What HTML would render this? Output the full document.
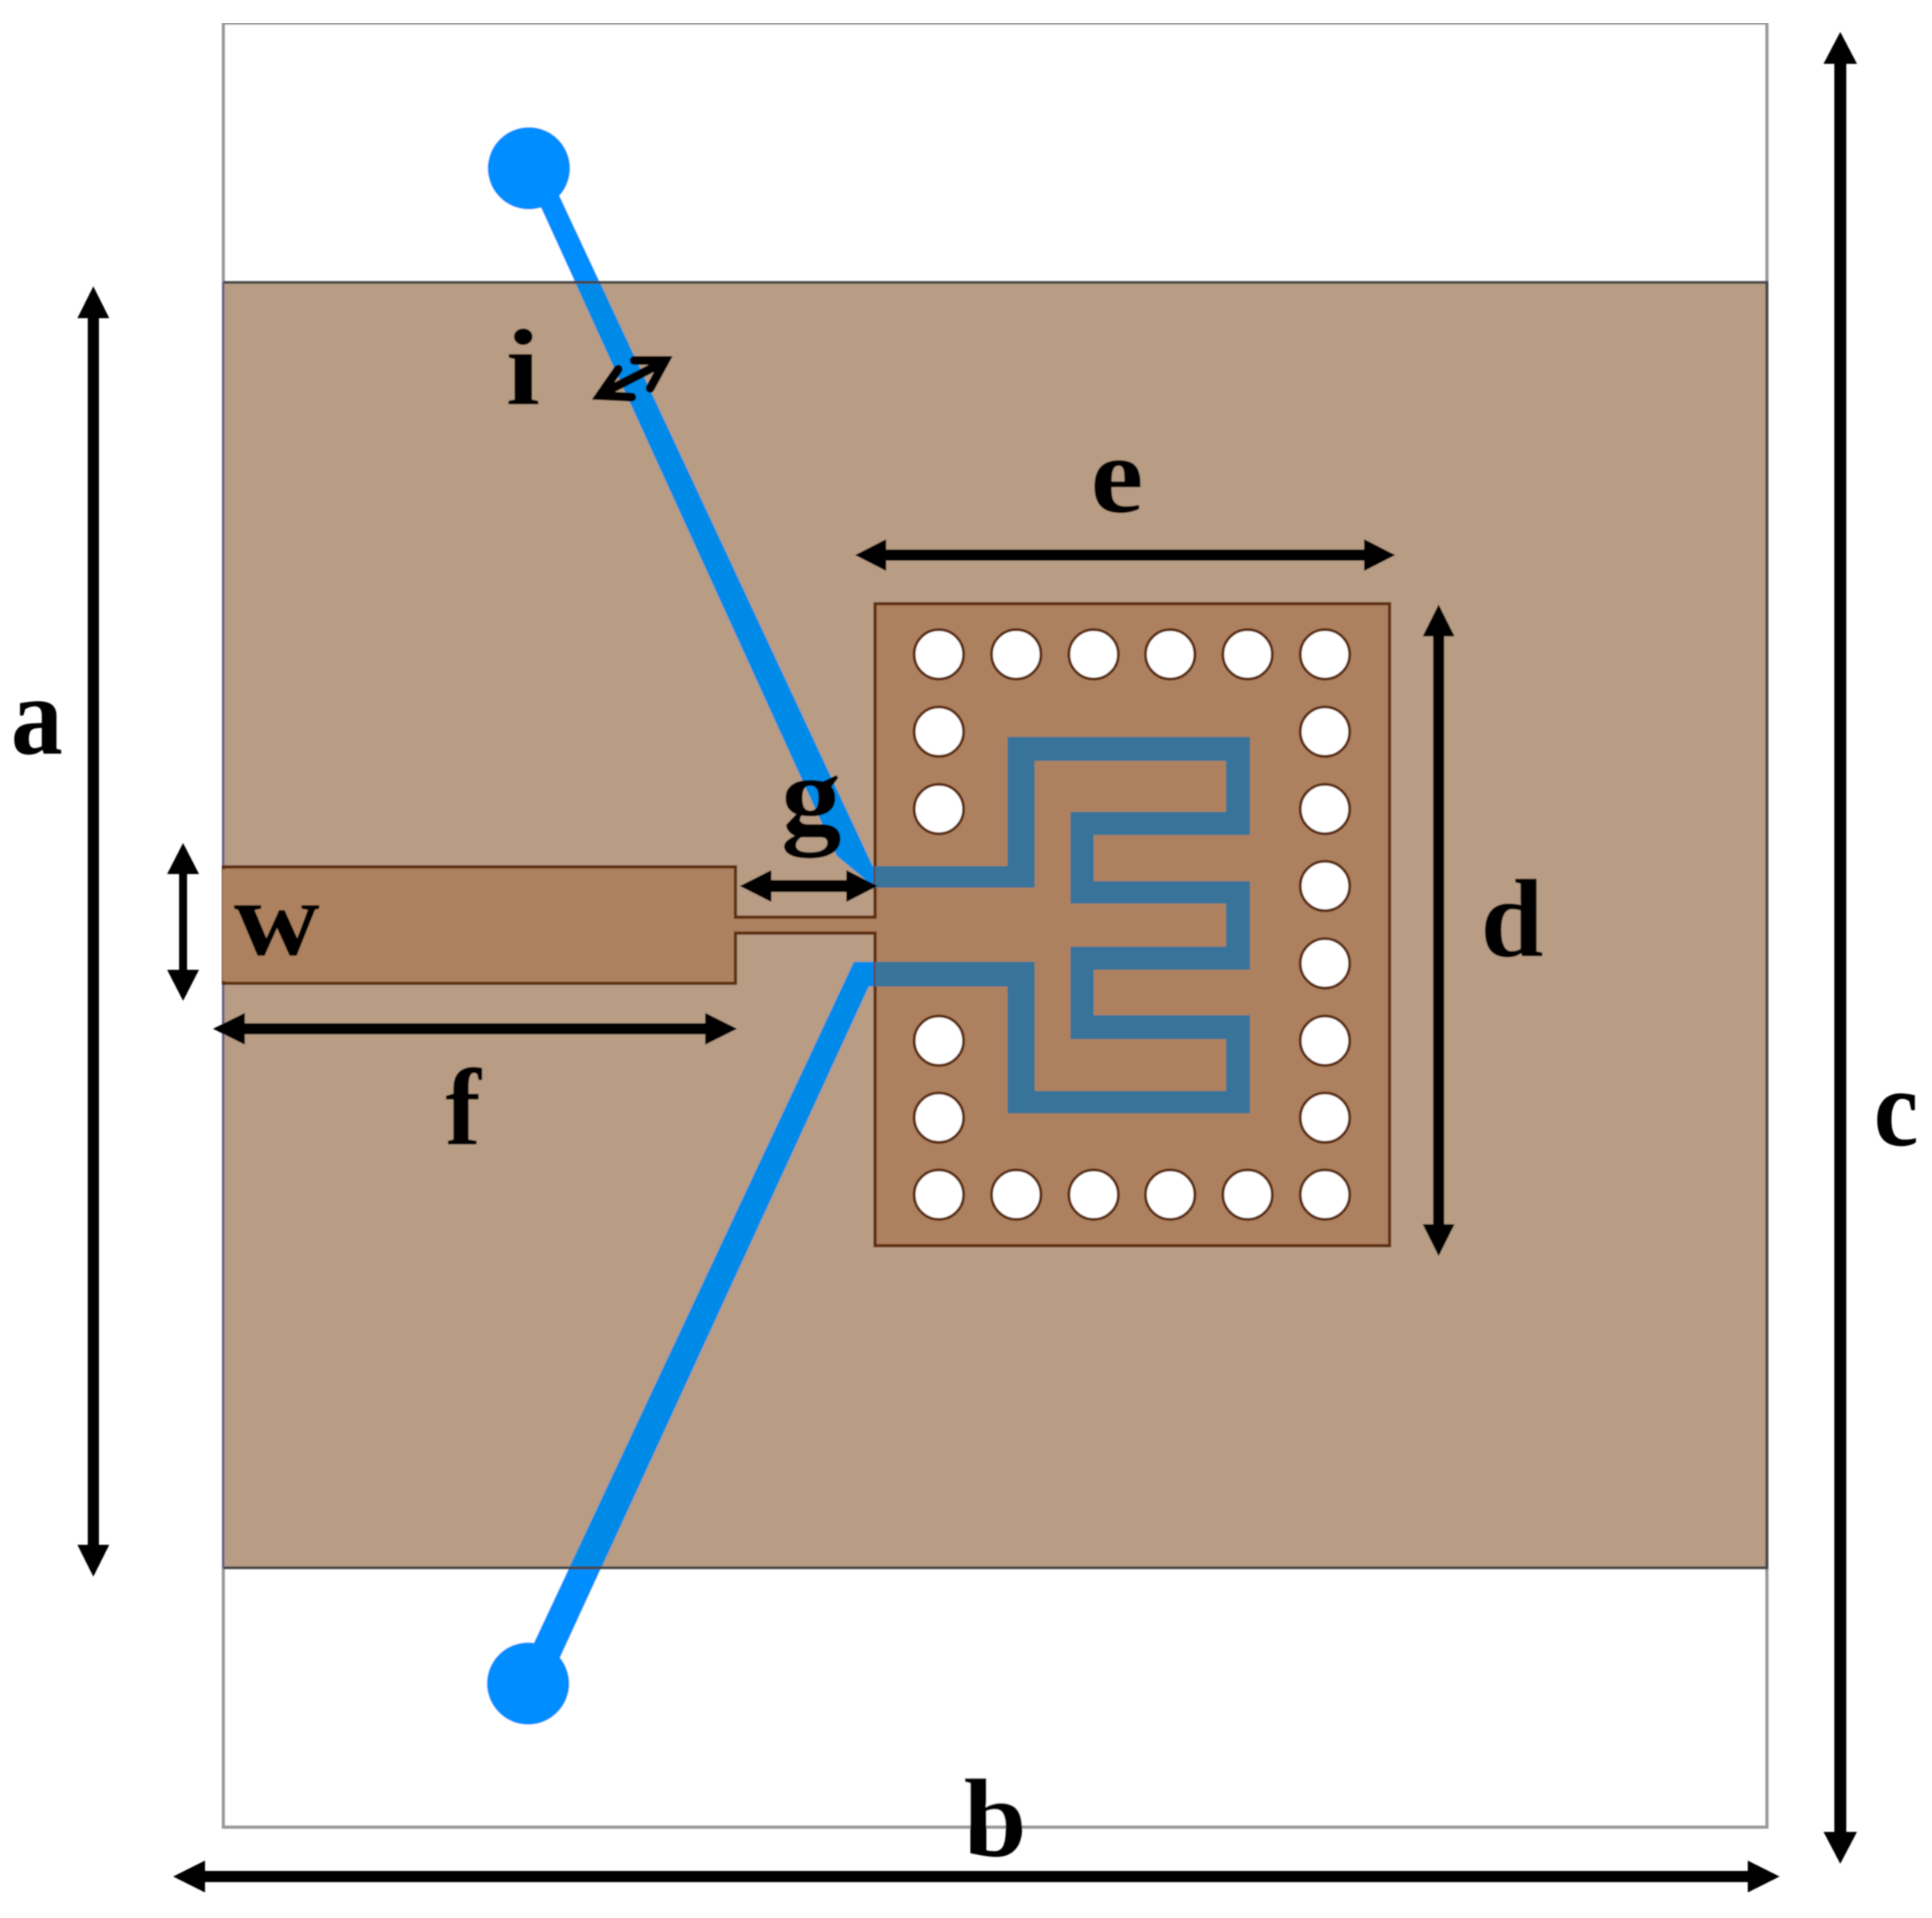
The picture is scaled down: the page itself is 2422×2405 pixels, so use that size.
<!DOCTYPE html>
<html>
<head>
<meta charset="utf-8">
<title>Antenna diagram</title>
<style>
html,body{margin:0;padding:0;background:#fff;}
svg{display:block;}
text{font-family:"Liberation Serif",serif;font-weight:bold;fill:#000;}
</style>
</head>
<body>
<svg width="2422" height="2405" viewBox="0 0 2422 2405" xmlns="http://www.w3.org/2000/svg">
<defs>
<filter id="s" x="0" y="0" width="100%" height="100%"><feGaussianBlur stdDeviation="0.8"/></filter>
<clipPath id="sub"><rect x="280" y="354" width="1934" height="1612"/></clipPath>
</defs>
<rect width="2422" height="2405" fill="#fff"/>
<g filter="url(#s)">
<!-- outer board -->
<rect x="280" y="29" width="1935" height="2262" fill="#fff" stroke="#999" stroke-width="4"/>
<!-- substrate -->
<rect x="280" y="354" width="1934" height="1612" fill="#b89c84"/>
<!-- blue lines -->
<g fill="#008dff">
<polygon points="669,240 680,200 1094,1086 1097,1086 1097,1113 1049,1073"/>
<polygon points="1070.5,1206 1097,1206 1097,1237 1089,1237 682,2122 659,2082"/>
<circle cx="663" cy="211" r="51.5"/>
<circle cx="662" cy="2111" r="51.5"/>
</g>
<g fill="#008ae8" clip-path="url(#sub)">
<polygon points="669,240 680,200 1094,1086 1097,1086 1097,1113 1049,1073"/>
<polygon points="1070.5,1206 1097,1206 1097,1237 1089,1237 682,2122 659,2082"/>
</g>
<!-- substrate edges -->
<path d="M280 354H2215V1966H280" fill="none" stroke="#454545" stroke-width="3.5"/>
<path d="M280 354V1966" fill="none" stroke="#55558f" stroke-width="2.5"/>
<!-- feed + patch -->
<path d="M280 1087H922V1150H1097V757H1742V1562H1097V1170H922V1233H280Z" fill="#ad815e" stroke="#5e2e0c" stroke-width="4"/>
<rect x="279" y="1090" width="3.5" height="140" fill="#ad815e"/>
<!-- slot ring -->
<path d="M1097 1086H1263V924H1567V1047H1371V1105H1567V1216H1371V1273H1567V1396H1263V1237H1097V1206H1297V1368H1537V1303H1342V1187H1537V1133H1342V1018H1537V954H1297V1113H1097Z" fill="#37739a"/>
<!-- vias -->
<g fill="#fff" stroke="#5a2c0c" stroke-width="3.5">
<circle cx="1177" cy="820.5" r="31"/><circle cx="1274" cy="820.5" r="31"/><circle cx="1371" cy="820.5" r="31"/><circle cx="1467" cy="820.5" r="31"/><circle cx="1564" cy="820.5" r="31"/><circle cx="1661" cy="820.5" r="31"/>
<circle cx="1177" cy="917.5" r="31"/><circle cx="1177" cy="1014.5" r="31"/><circle cx="1177" cy="1305" r="31"/><circle cx="1177" cy="1401.5" r="31"/>
<circle cx="1661" cy="917.5" r="31"/><circle cx="1661" cy="1014.5" r="31"/><circle cx="1661" cy="1111" r="31"/><circle cx="1661" cy="1208" r="31"/><circle cx="1661" cy="1305" r="31"/><circle cx="1661" cy="1401.5" r="31"/>
<circle cx="1177" cy="1498" r="31"/><circle cx="1274" cy="1498" r="31"/><circle cx="1371" cy="1498" r="31"/><circle cx="1467" cy="1498" r="31"/><circle cx="1564" cy="1498" r="31"/><circle cx="1661" cy="1498" r="31"/>
</g>
<!-- arrows -->
<g fill="#000">
<!-- a --><polygon points="117,359 137,399 124,399 124,1937 137,1937 117,1977 97,1937 110,1937 110,399 97,399"/>
<!-- c --><polygon points="2307,40 2328,80 2314.5,80 2314.5,2297 2328,2297 2307,2337 2286,2297 2299.5,2297 2299.5,80 2286,80"/>
<!-- d --><polygon points="1803.5,758 1823.5,798 1810.5,798 1810.5,1535 1823.5,1535 1803.5,1575 1783.5,1535 1796.5,1535 1796.5,798 1783.5,798"/>
<!-- w --><polygon points="229.5,1057 249.5,1096 234.5,1096 234.5,1216 249.5,1216 229.5,1255 209.5,1216 224.5,1216 224.5,1096 209.5,1096"/>
<!-- b --><polygon points="217,2353 257,2333 257,2346 2191,2346 2191,2333 2231,2353 2191,2373 2191,2360 257,2360 257,2373"/>
<!-- e --><polygon points="1072,696 1111,676 1111,689 1710,689 1710,676 1749,696 1710,716 1710,703 1111,703 1111,716"/>
<!-- f --><polygon points="267,1290 307,1270 307,1283 884,1283 884,1270 924,1290 884,1310 884,1297 307,1297 307,1310"/>
<!-- g --><polygon points="927.5,1111 967,1091 967,1103.5 1061,1103.5 1061,1091 1100,1111 1061,1131 1061,1118.5 967,1118.5 967,1131"/>
</g>
<!-- i arrow -->
<g fill="none" stroke="#000" stroke-width="11" stroke-linejoin="miter" stroke-linecap="round" stroke-miterlimit="8">
<path d="M795 452L834 452L815 487"/>
<path d="M775 463L752 496L792 498"/>
<path d="M756 493L830 455"/>
</g>
<!-- labels -->
<text x="13.7" y="945" font-size="140" textLength="65" lengthAdjust="spacingAndGlyphs">a</text>
<text x="1208" y="2327" font-size="140" textLength="79" lengthAdjust="spacingAndGlyphs">b</text>
<text x="2349" y="1436" font-size="138" textLength="56" lengthAdjust="spacingAndGlyphs">c</text>
<text x="1856" y="1199" font-size="140" textLength="79" lengthAdjust="spacingAndGlyphs">d</text>
<text x="1367" y="642" font-size="138" textLength="66.5" lengthAdjust="spacingAndGlyphs">e</text>
<text x="558" y="1435" font-size="138" textLength="45" lengthAdjust="spacingAndGlyphs">f</text>
<text x="979" y="1045" font-size="142" textLength="76" lengthAdjust="spacingAndGlyphs">g</text>
<text x="634" y="507" font-size="137" textLength="43" lengthAdjust="spacingAndGlyphs">i</text>
<text x="293" y="1197" font-size="135" textLength="108" lengthAdjust="spacingAndGlyphs">w</text>
</g>
</svg>
</body>
</html>
